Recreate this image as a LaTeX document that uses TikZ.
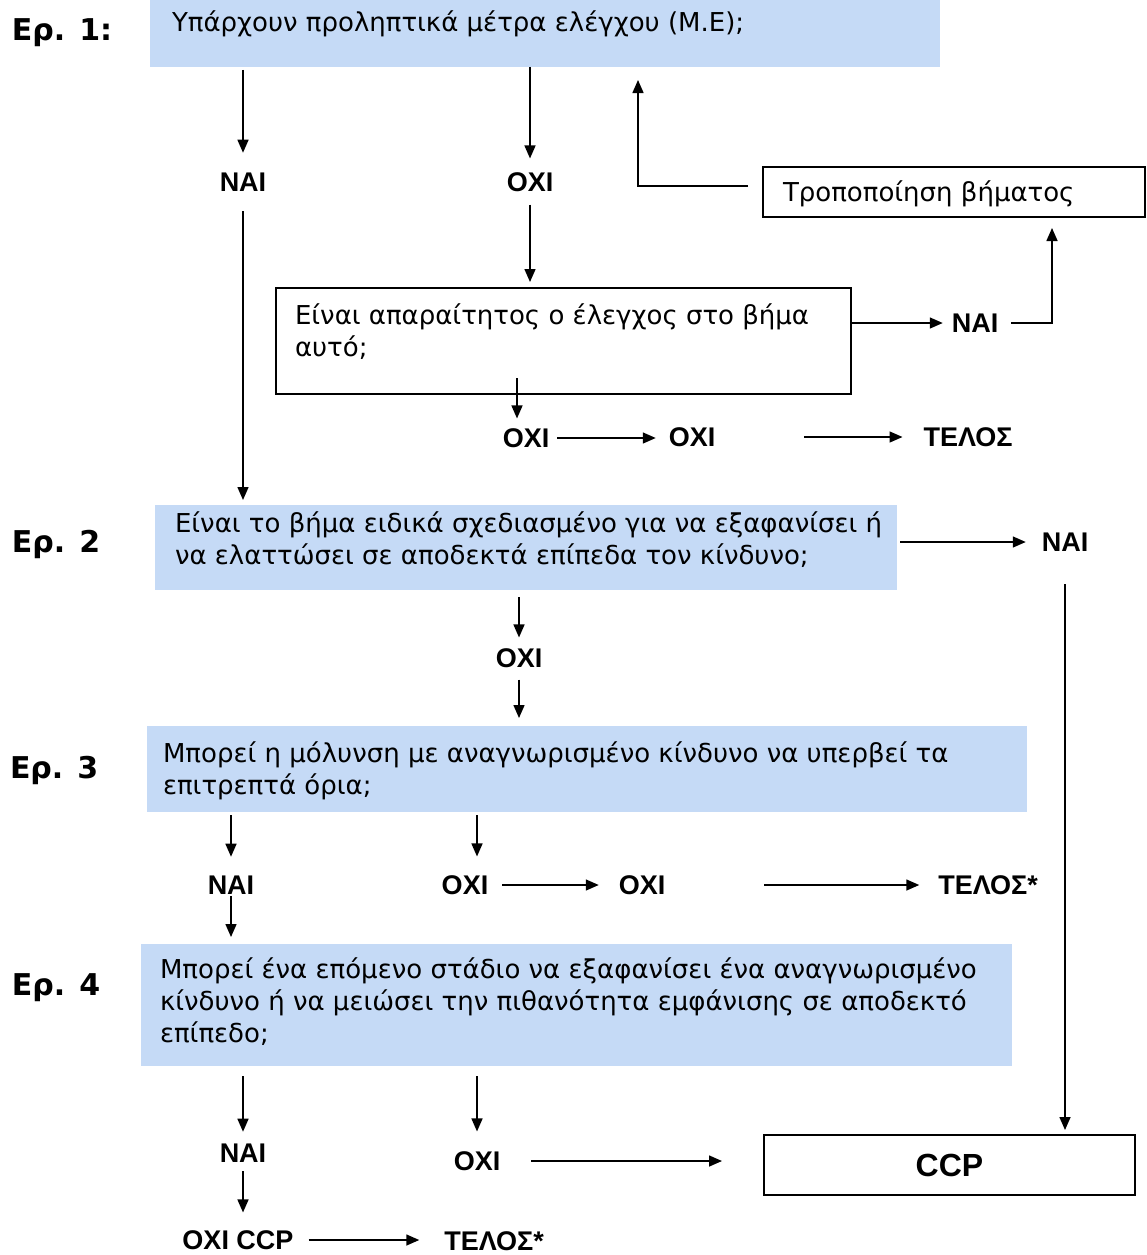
\documentclass[tikz,border=0pt]{standalone}
\usepackage{fontspec}
\setmainfont{Liberation Sans}
\newfontfamily\bodyfont{DejaVu Sans}
\usetikzlibrary{arrows.meta,calc}
\definecolor{boxblue}{RGB}{197,218,246}
\begin{document}
\begin{tikzpicture}[x=1pt,y=-1pt,
 every node/.style={inner sep=0pt, outer sep=0pt},
 qtext/.style={anchor=base west, align=left, font=\bodyfont\fontsize{26}{32}\selectfont},
 bluebox/.style={fill=boxblue, draw=none, anchor=north west},
 linebox/.style={draw=black, line width=1.5pt, fill=white, anchor=north west},
 lab/.style={font=\fontsize{27}{30}\selectfont\bfseries},
 eplab/.style={anchor=base west, font=\bodyfont\fontsize{30}{30}\selectfont\bfseries},
 arr/.style={line width=1.5pt, -{Triangle[length=13pt,width=11pt]}}
]
\useasboundingbox[fill=white] (0,0) rectangle (1147,1255);

% boxes
\node[bluebox, minimum width=790pt, minimum height=67pt] (b1) at (150,0) {};
\node[linebox, minimum width=382pt, minimum height=50pt] (mod) at (763,167) {};
\node[linebox, minimum width=575pt, minimum height=106pt] (b3) at (276,288) {};
\node[bluebox, minimum width=742pt, minimum height=85pt] (b2) at (155,505) {};
\node[bluebox, minimum width=880pt, minimum height=86pt] (b4) at (147,726) {};
\node[bluebox, minimum width=871pt, minimum height=122pt] (b5) at (141,944) {};
\node[draw=black, line width=1.5pt, minimum width=371pt, minimum height=60pt,
      font=\fontsize{32}{32}\selectfont\bfseries] (ccp) at (949.5,1165) {CCP};

% texts (base = baseline of the last line)
\node[qtext] (t1) at (172,32) {Υπάρχουν προληπτικά μέτρα ελέγχου (Μ.Ε);};
\node[qtext] (tmod) at (783,201) {Τροποποίηση βήματος};
\node[qtext] (t3) at (295,356) {Είναι απαραίτητος ο έλεγχος στο βήμα\\αυτό;};
\node[qtext] (t2) at (175,564) {Είναι το βήμα ειδικά σχεδιασμένο για να εξαφανίσει ή\\να ελαττώσει σε αποδεκτά επίπεδα τον κίνδυνο;};
\node[qtext] (t4) at (163,794) {Μπορεί η μόλυνση με αναγνωρισμένο κίνδυνο να υπερβεί τα\\επιτρεπτά όρια;};
\node[qtext] (t5) at (160,1042) {Μπορεί ένα επόμενο στάδιο να εξαφανίσει ένα αναγνωρισμένο\\κίνδυνο ή να μειώσει την πιθανότητα εμφάνισης σε αποδεκτό\\επίπεδο;};

% step labels
\node[eplab] (e1) at (12,41) {Ερ. 1:};
\node[eplab] (e2) at (12,552) {Ερ. 2};
\node[eplab] (e3) at (10,778) {Ερ. 3};
\node[eplab] (e4) at (12,995) {Ερ. 4};

% answer labels
\node[lab] (nai1) at (243,182) {ΝΑΙ};
\node[lab] (oxi1) at (530,182) {ΟΧΙ};
\node[lab] (naiR) at (975,323) {ΝΑΙ};
\node[lab] (oxi2) at (526,438) {ΟΧΙ};
\node[lab] (oxi3) at (692,437) {ΟΧΙ};
\node[lab] (telos1) at (968,437) {ΤΕΛΟΣ};
\node[lab] (nai2) at (1065,542) {ΝΑΙ};
\node[lab] (oxi4) at (519,658) {ΟΧΙ};
\node[lab] (nai3) at (231,885) {ΝΑΙ};
\node[lab] (oxi5) at (465,885) {ΟΧΙ};
\node[lab] (oxi6) at (642,885) {ΟΧΙ};
\node[lab] (telos2) at (988,885) {ΤΕΛΟΣ*};
\node[lab] (nai4) at (243,1153) {ΝΑΙ};
\node[lab] (oxi7) at (477,1161) {ΟΧΙ};
\node[lab] (oxiccp) at (238,1240) {ΟΧΙ CCP};
\node[lab] (telos3) at (494,1241) {ΤΕΛΟΣ*};

\coordinate (c1) at (1052,217);
\coordinate (c2) at (638,67);
\coordinate (c3) at (517,378);
\coordinate (c5) at (477,812);

% connectors
\draw[arr, shorten <=3pt, shorten >=20pt] (b1.south -| nai1) -- (nai1.north);
\draw[arr, shorten >=14pt] (b1.south -| oxi1) -- (oxi1.north);
\draw[arr, shorten <=20pt, shorten >=5pt] (nai1.south) -- (nai1 |- b2.north);
\draw[arr, shorten <=13pt, shorten >=6pt] (oxi1.south) -- (oxi1 |- b3.north);
\draw[arr, shorten >=9pt] (b3.east |- naiR) -- (naiR.west);
\draw[arr, shorten <=13pt, shorten >=11pt] (naiR.east) -| (c1);
\draw[arr, shorten <=15pt, shorten >=13pt] ([yshift=6pt]mod.west) -| (c2);
\draw[arr, shorten >=10pt] (c3) -- (c3 |- oxi2.north);
\draw[arr, shorten <=8pt, shorten >=13pt] (oxi2.east) -- (oxi3.west |- oxi2);
\draw[arr, shorten <=89pt, shorten >=21pt] (oxi3.east) -- (telos1.west);
\draw[arr, shorten <=3pt, shorten >=16pt] (b2.east |- nai2) -- (nai2.west);
\draw[arr, shorten <=33pt, shorten >=5pt] (nai2.south) -- (nai2 |- ccp.north);
\draw[arr, shorten <=7pt, shorten >=11pt] (b2.south -| oxi4) -- (oxi4.north);
\draw[arr, shorten <=12pt, shorten >=8pt] (oxi4.south) -- (oxi4 |- b4.north);
\draw[arr, shorten <=3pt, shorten >=19pt] (b4.south -| nai3) -- (nai3.north);
\draw[arr, shorten <=3pt, shorten >=19pt] (c5) -- (c5 |- oxi5.north);
\draw[arr, shorten <=14pt, shorten >=20pt] (oxi5.east) -- (oxi6.west);
\draw[arr, shorten <=99pt, shorten >=19pt] (oxi6.east) -- (telos2.west);
\draw[arr, shorten <=2pt, shorten >=7pt] (nai3.south) -- (nai3 |- b5.north);
\draw[arr, shorten <=10pt, shorten >=12pt] (b5.south -| nai4) -- (nai4.north);
\draw[arr, shorten <=10pt, shorten >=20pt] (b5.south -| oxi7) -- (oxi7.north);
\draw[arr, shorten <=31pt, shorten >=42pt] (oxi7.east) -- (ccp.west |- oxi7);
\draw[arr, shorten <=9pt, shorten >=18pt] (nai4.south) -- (nai4.south |- oxiccp.north);
\draw[arr, shorten <=15pt, shorten >=25pt] (oxiccp.east) -- (telos3.west |- oxiccp);
\end{tikzpicture}
\end{document}
